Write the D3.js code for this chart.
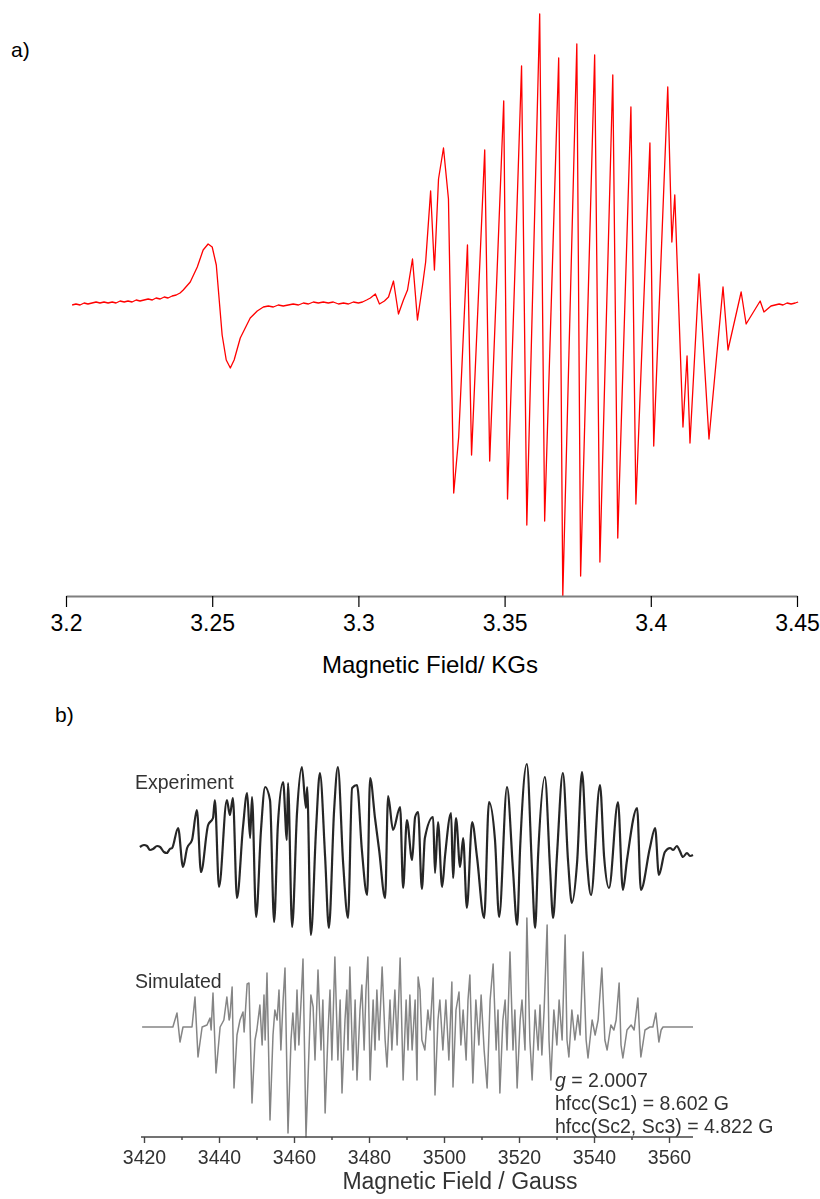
<!DOCTYPE html>
<html>
<head>
<meta charset="utf-8">
<script src="https://cdn.jsdelivr.net/npm/d3@7"></script>
<style>
  html, body { margin: 0; padding: 0; background: #fff; }
  svg { display: block; font-family: Arial, "Liberation Sans", Helvetica, sans-serif; }
</style>
</head>
<body>
<svg id="chart" width="820" height="1199"></svg>
<script>
// ---------- a) EPR spectrum, field in KG, signal in arbitrary units ----------
const fieldA = [
  3.2021, 3.2034, 3.2048, 3.2062, 3.2075, 3.2089, 3.2103, 3.2116, 3.2130, 3.2144,
  3.2158, 3.2171, 3.2185, 3.2199, 3.2212, 3.2226, 3.2240, 3.2253, 3.2267, 3.2281,
  3.2295, 3.2308, 3.2322, 3.2336, 3.2349, 3.2363, 3.2377, 3.2390, 3.2401,
  3.2425, 3.2449, 3.2469, 3.2486, 3.2500, 3.2514, 3.2524, 3.2534, 3.2548,
  3.2562, 3.2575, 3.2596, 3.2630, 3.2654,
  3.2675, 3.2692, 3.2709, 3.2726, 3.2743, 3.2760, 3.2777, 3.2795, 3.2812, 3.2829,
  3.2846, 3.2863, 3.2880, 3.2897, 3.2914, 3.2932, 3.2949, 3.2966, 3.2983, 3.3000,
  3.3014, 3.3028, 3.3041,
  3.3058, 3.3072, 3.3089, 3.3103, 3.3120,
  3.3137, 3.3154, 3.3168, 3.3185, 3.3202, 3.3219, 3.3230, 3.3247, 3.3260, 3.3274,
  3.3291, 3.3308, 3.3326, 3.3343, 3.3373, 3.3387, 3.3432, 3.3449, 3.3497, 3.3510,
  3.3558, 3.3576, 3.3620, 3.3637, 3.3685, 3.3699, 3.3747, 3.3760, 3.3808, 3.3826,
  3.3870, 3.3887, 3.3932, 3.3949, 3.3997, 3.4010, 3.4058, 3.4072, 3.4082, 3.4110,
  3.4124, 3.4134, 3.4165, 3.4199, 3.4247, 3.4264, 3.4309, 3.4326, 3.4374, 3.4387,
  3.4411, 3.4425, 3.4439, 3.4452, 3.4466, 3.4480, 3.4494, 3.4504
];
const signalA = [
  -1, 0, -1, 1, 0, 1, 2, 1, 2, 1,
  2, 1, 3, 2, 3, 2, 4, 3, 4, 5,
  4, 6, 5, 7, 6, 8, 9, 11, 14,
  22, 37, 54, 60, 57, 39, 4, -31, -56,
  -64, -56, -34, -14, -7,
  -3, -2, -3, -1, -2, -1, 0, -1, 1, 0,
  2, 1, 2, 1, 2, 0, 1, 0, 2, 1,
  2, 4, 6,
  10, 0, 3, 7, 23,
  -10, 4, 14, 45, -16, 18, 42, 113, 34, 125,
  156, 105, -189, -133, 59, -151, 154, -157, 203, -195,
  238, -221, 290, -217, 246, -292, 260, -272, 249, -258,
  229, -234, 197, -200, 161, -142, 217, 62, 109, -123,
  -52, -139, 30, -135, 17, -46, 12, -20, 3, -8,
  -2, -1, 0, -1, 1, 0, 1, 2
];
const ticksA = [3.2, 3.25, 3.3, 3.35, 3.4, 3.45];

// ---------- b) experimental and simulated spectra, field in Gauss ----------
const fieldExp = [
  3418.9, 3420.0, 3420.8, 3421.6, 3422.4, 3423.5, 3424.3, 3425.3, 3426.1, 3426.9,
  3427.5, 3429.1, 3430.4, 3431.5, 3432.8, 3434.1, 3435.2, 3437.1, 3438.4, 3438.9,
  3440.0, 3442.1, 3442.9, 3443.7, 3444.8, 3446.4, 3447.5, 3448.3, 3448.8, 3449.9,
  3451.2, 3452.3, 3453.6, 3454.7, 3455.7, 3457.1, 3458.1, 3458.4, 3459.5, 3460.8,
  3462.1, 3463.2, 3463.5, 3464.5, 3465.9, 3466.9, 3468.3, 3469.3, 3470.7, 3471.7,
  3473.1, 3474.4, 3475.5, 3476.8, 3478.1, 3479.5, 3480.3, 3481.6, 3482.7, 3484.3,
  3485.1, 3486.4, 3488.3, 3489.1, 3490.1, 3491.5, 3492.3, 3493.1, 3494.1, 3494.9,
  3497.1, 3497.6, 3498.4, 3499.5, 3500.3, 3501.9, 3502.4, 3503.2, 3504.3, 3505.1,
  3506.1, 3507.5, 3508.8, 3510.7, 3512.0, 3513.6, 3514.7, 3516.8, 3518.4, 3519.5,
  3520.3, 3522.1, 3523.5, 3524.3, 3525.1, 3526.9, 3528.3, 3529.1, 3530.1, 3531.7,
  3533.1, 3534.1, 3535.5, 3536.8, 3538.1, 3539.2, 3541.6, 3542.7, 3544.0, 3546.4,
  3547.7, 3548.8, 3551.5, 3552.5, 3554.9, 3556.3, 3557.3, 3558.9, 3560.3, 3561.1,
  3562.1, 3562.9, 3563.7, 3564.8, 3565.6, 3566.4
];
const signalExp = [
  1, 3, 2, -2, -1, 2, 1, -4, -5, -1,
  0, 20, -19, 0, 8, 38, -24, 23, 30, 48,
  -39, 48, 33, 50, -50, 21, 55, 10, 51, -69,
  18, 61, 48, -74, 23, 66, 8, 65, -79, 35,
  81, 40, 61, -87, 20, 75, -9, -80, 38, 81,
  -15, -70, 60, 63, -2, -47, 70, 30, -2, -50,
  52, 18, 41, -40, 28, -12, 31, 36, -41, 10,
  31, -25, 26, -39, -7, 35, -30, 30, -19, 10,
  -60, 26, -9, -70, 46, 8, -69, 61, -22, -77,
  0, 84, -24, -80, -7, 71, -22, -70, -9, 75,
  -14, -55, -14, 76, -12, -47, 63, -9, -40, 46,
  -42, -12, 40, -42, 0, 20, -27, -4, 0, -2,
  2, -3, -9, -5, -8, -7
];
const fieldSim = [
  3419.5, 3427.7, 3428.8, 3429.6, 3430.4, 3432.8, 3433.6, 3434.4, 3435.5, 3436.8,
  3437.6, 3437.9, 3438.4, 3439.2, 3440.3, 3441.3, 3442.1, 3442.7, 3442.9, 3443.5,
  3444.0, 3444.8, 3445.6, 3446.4, 3446.7, 3447.5, 3448.0, 3448.8, 3449.6, 3450.1,
  3450.9, 3451.5, 3452.0, 3452.3, 3452.8, 3453.6, 3454.4, 3454.9, 3455.5, 3456.0,
  3456.5, 3457.1, 3457.6, 3458.4, 3459.2, 3459.7, 3460.3, 3460.8, 3461.3, 3461.9,
  3462.4, 3463.2, 3464.0, 3464.5, 3465.1, 3465.6, 3466.4, 3467.2, 3467.7, 3468.3,
  3469.1, 3469.6, 3470.1, 3470.9, 3471.7, 3472.3, 3472.8, 3473.6, 3474.1, 3474.4,
  3474.9, 3475.7, 3476.3, 3476.8, 3477.6, 3478.1, 3478.7, 3479.2, 3479.7, 3480.3,
  3481.1, 3481.6, 3482.1, 3482.7, 3483.5, 3484.3, 3484.8, 3485.6, 3486.1, 3486.9,
  3487.5, 3488.3, 3489.1, 3489.9, 3490.4, 3490.9, 3491.5, 3492.3, 3492.8, 3493.1,
  3493.6, 3494.1, 3494.9, 3495.7, 3496.3, 3497.1, 3497.6, 3498.4, 3498.9, 3499.7,
  3500.5, 3501.3, 3502.1, 3502.4, 3503.2, 3504.0, 3504.5, 3505.1, 3505.9, 3506.4,
  3506.9, 3507.7, 3508.5, 3509.3, 3509.9, 3510.7, 3511.5, 3512.3, 3513.1, 3513.9,
  3514.4, 3514.9, 3515.7, 3516.3, 3516.8, 3517.6, 3518.4, 3518.9, 3519.5, 3520.3,
  3520.8, 3521.6, 3522.1, 3522.9, 3523.5, 3524.3, 3525.1, 3525.6, 3526.1, 3526.7,
  3527.5, 3528.0, 3528.5, 3529.3, 3530.1, 3530.7, 3531.5, 3532.3, 3532.8, 3533.3,
  3534.1, 3534.9, 3535.7, 3536.3, 3537.1, 3537.9, 3538.4, 3539.5, 3540.3, 3541.1,
  3542.1, 3542.9, 3543.5, 3544.5, 3545.3, 3545.9, 3546.7, 3547.2, 3547.7, 3548.8,
  3549.9, 3550.7, 3551.7, 3552.3, 3552.5, 3553.6, 3554.9, 3555.7, 3556.5, 3557.3,
  3557.9, 3558.4, 3566.4
];
const signalSim = [
  0, 0, 14, -15, 0, 0, 30, -30, 0, 2,
  9, -3, 34, -46, 0, 7, 30, 7, 10, 40,
  -61, -8, 7, 15, -5, 43, 44, -76, -13, -3,
  22, -18, 32, -13, 54, -93, -8, 17, 7, 37,
  -23, 27, 59, -106, -13, 14, -23, 37, -18, 27,
  68, -110, -23, 32, 20, -33, 57, -23, 27, -86,
  -3, 37, -33, 70, -33, 27, -66, 7, 37, -23,
  60, -43, 27, -53, 17, 42, -23, 37, 70, -53,
  27, -23, 37, -13, 60, -13, -40, 27, -23, 37,
  -18, 69, -53, 27, -23, 32, -23, 27, -53, 50,
  37, -13, -23, 17, -3, 49, -68, 7, 27, -23,
  27, -33, 45, -60, 17, 35, -18, 17, -33, 27,
  52, -56, 27, -18, 32, -23, -61, 27, 63, -23,
  17, -66, 7, 27, -23, 75, -23, 17, -61, 7,
  27, -23, 109, -13, -53, 17, -23, 22, -28, 17,
  102, -13, -53, 17, -18, 27, -13, 92, -13, -30,
  17, -13, 12, -8, 75, -13, -31, 7, -8, 7,
  59, -13, -23, 2, -3, 7, 44, -18, -31, -3,
  2, -3, 29, -18, -30, -3, 0, 0, 14, -15,
  -3, 0, 0
];
const majorTicksB = [3420, 3440, 3460, 3480, 3500, 3520, 3540, 3560];
const minorTicksB = [3430, 3450, 3470, 3490, 3510, 3530, 3550];
const simParams = [
  { sym: "g", rest: " = 2.0007" },
  { sym: "", rest: "hfcc(Sc1) = 8.602 G" },
  { sym: "", rest: "hfcc(Sc2, Sc3) = 4.822 G" }
];

const svg = d3.select("#chart");

// ---------- panel a ----------
const xA = d3.scaleLinear().domain([3.2, 3.45]).range([66, 797]);
const yA = d3.scaleLinear().domain([-300, 300]).range([604, 4]);

svg.append("text").attr("x", 11).attr("y", 57)
  .attr("font-size", 21).attr("fill", "#000").text("a)");

const ptsA = fieldA.map((f, i) => [f, signalA[i]]);
svg.append("path")
  .datum(ptsA)
  .attr("fill", "none")
  .attr("stroke", "#ff0000")
  .attr("stroke-width", 1.3)
  .attr("stroke-linejoin", "round")
  .attr("d", d3.line().x(d => xA(d[0])).y(d => yA(d[1])));

const axisA = svg.append("g").attr("transform", "translate(0,596)")
  .call(d3.axisBottom(xA).tickValues(ticksA).tickSize(11).tickSizeOuter(0)
    .tickPadding(8).tickFormat(d => String(+d.toFixed(2))));
axisA.select(".domain").attr("stroke", "#7f7f7f").attr("stroke-width", 2);
axisA.selectAll(".tick line").attr("stroke", "#000").attr("stroke-width", 1.2);
axisA.selectAll(".tick text").attr("font-size", 23).attr("fill", "#000")
  .attr("font-family", "Arial, 'Liberation Sans', sans-serif");

svg.append("text").attr("x", 430).attr("y", 673).attr("text-anchor", "middle")
  .attr("font-size", 24).attr("fill", "#000").text("Magnetic Field/ KGs");

svg.append("text").attr("x", 55).attr("y", 722)
  .attr("font-size", 21).attr("fill", "#000").text("b)");

// ---------- panel b ----------
const defs = svg.append("defs");
defs.append("filter").attr("id", "soft")
  .attr("x", "-5%").attr("y", "-5%").attr("width", "110%").attr("height", "110%")
  .append("feGaussianBlur").attr("stdDeviation", 0.6);

const xB = d3.scaleLinear().domain([3420, 3560]).range([144, 669]);
const yExp = d3.scaleLinear().domain([-100, 100]).range([948, 748]);
const ySim = d3.scaleLinear().domain([-100, 100]).range([1127, 927]);

const gB = svg.append("g").attr("filter", "url(#soft)");

gB.append("path")
  .datum(fieldSim.map((f, i) => [f, signalSim[i]]))
  .attr("fill", "none").attr("stroke", "#858585").attr("stroke-width", 1.5)
  .attr("stroke-linejoin", "round")
  .attr("d", d3.line().x(d => xB(d[0])).y(d => ySim(d[1])));

gB.append("path")
  .datum(fieldExp.map((f, i) => [f, signalExp[i]]))
  .attr("fill", "none").attr("stroke", "#262626").attr("stroke-width", 2.2)
  .attr("stroke-linejoin", "round")
  .attr("d", d3.line().curve(d3.curveMonotoneX).x(d => xB(d[0])).y(d => yExp(d[1])));

gB.append("text").attr("x", 135).attr("y", 789)
  .attr("font-size", 19.5).attr("fill", "#333").text("Experiment");
gB.append("text").attr("x", 135).attr("y", 988)
  .attr("font-size", 19.5).attr("fill", "#333").text("Simulated");

const par = gB.append("g").attr("font-size", 19.5).attr("fill", "#333");
simParams.forEach((p, i) => {
  const t = par.append("text").attr("x", 555).attr("y", 1087 + i * 23);
  if (p.sym) t.append("tspan").attr("font-style", "italic").text(p.sym);
  t.append("tspan").text(p.rest);
});

// axis baseline spans slightly past the labelled range
gB.append("line")
  .attr("x1", xB(3419.2)).attr("x2", xB(3566.4))
  .attr("y1", 1137).attr("y2", 1137)
  .attr("stroke", "#444").attr("stroke-width", 1.6);

const axB = gB.append("g").attr("transform", "translate(0,1137)")
  .call(d3.axisBottom(xB).tickValues(majorTicksB).tickSize(6).tickPadding(7)
    .tickFormat(d3.format("d")));
axB.select(".domain").remove();
axB.selectAll(".tick line").attr("stroke", "#444").attr("stroke-width", 1.4);
axB.selectAll(".tick text").attr("font-size", 19.5).attr("fill", "#333")
  .attr("font-family", "Arial, 'Liberation Sans', sans-serif");

const axBm = gB.append("g").attr("transform", "translate(0,1137)")
  .call(d3.axisBottom(xB).tickValues(minorTicksB).tickSize(3).tickFormat(""));
axBm.select(".domain").remove();
axBm.selectAll(".tick line").attr("stroke", "#444").attr("stroke-width", 1.4);

gB.append("text").attr("x", 460).attr("y", 1189).attr("text-anchor", "middle")
  .attr("font-size", 23).attr("fill", "#333").text("Magnetic Field / Gauss");
</script>
</body>
</html>
